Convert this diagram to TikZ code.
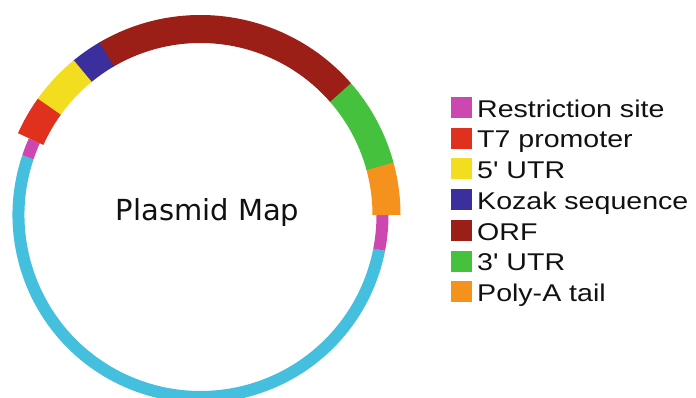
\documentclass[tikz,border=0pt]{standalone}
\usepackage{fontspec}
\newfontfamily\legendfont[FakeStretch=1.18]{Liberation Sans}
\newfontfamily\mapfont{DejaVu Sans}
\definecolor{cCyan}{HTML}{44BFDD}
\definecolor{cMag}{HTML}{CC48B0}
\definecolor{cRed}{HTML}{E0301E}
\definecolor{cYel}{HTML}{F2DE1E}
\definecolor{cBlue}{HTML}{3B2F9E}
\definecolor{cOrf}{HTML}{9C1F17}
\definecolor{cGreen}{HTML}{46C13E}
\definecolor{cOrange}{HTML}{F5921E}
\definecolor{cText}{HTML}{111111}
\begin{document}
\begin{tikzpicture}[x=1pt,y=1pt,
  ringthin/.style={line width=12pt},
  ringband/.style={line width=28pt},
  legsq/.style={minimum width=21pt,minimum height=21pt,inner sep=0pt,anchor=south west},
  legtext/.style={anchor=base west,inner sep=0pt,text=cText,font=\legendfont\fontsize{24.2}{29}\selectfont}]
\useasboundingbox (0,0) rectangle (696,398);
\coordinate (C) at (200.5,183);
% thin ring parts
\draw[ringthin,cCyan] ([shift={(161.5:182)}]C) arc[start angle=161.5,end angle=349,radius=182];
\draw[ringthin,cMag] ([shift={(349:182)}]C) arc[start angle=349,end angle=360,radius=182];
\draw[ringthin,cMag] ([shift={(155.9:182)}]C) arc[start angle=155.9,end angle=161.5,radius=182];
% thick band parts
\draw[ringband,cOrange] ([shift={(0:186)}]C) arc[start angle=0,end angle=15.4,radius=186];
\draw[ringband,cGreen] ([shift={(15.2:186)}]C) arc[start angle=15.2,end angle=41.4,radius=186];
\draw[ringband,cOrf] ([shift={(41.2:186)}]C) arc[start angle=41.2,end angle=120.5,radius=186];
\draw[ringband,cBlue] ([shift={(120.3:186)}]C) arc[start angle=120.3,end angle=129.5,radius=186];
\draw[ringband,cYel] ([shift={(129.3:186)}]C) arc[start angle=129.3,end angle=144.6,radius=186];
\draw[ringband,cRed] ([shift={(144.4:186)}]C) arc[start angle=144.4,end angle=155.9,radius=186];
% centre label
\node[anchor=base,inner sep=0pt,text=cText,font=\mapfont\fontsize{29}{34}\selectfont] (title) at (207.5,177.3) {Plasmid Map};
% legend
\node[legsq,fill=cMag]    (s1) at (450.7,279.7) {};
\node[legsq,fill=cRed]    (s2) at (450.7,249.0) {};
\node[legsq,fill=cYel]    (s3) at (450.7,218.3) {};
\node[legsq,fill=cBlue]   (s4) at (450.7,187.6) {};
\node[legsq,fill=cOrf]    (s5) at (450.7,156.9) {};
\node[legsq,fill=cGreen]  (s6) at (450.7,126.2) {};
\node[legsq,fill=cOrange] (s7) at (450.7,95.5) {};
\node[legtext] (t1) at (477,280.7) {Restriction site};
\node[legtext] (t2) at (477,250.0) {T7 promoter};
\node[legtext] (t3) at (477,219.3) {5' UTR};
\node[legtext] (t4) at (477,188.6) {Kozak sequence};
\node[legtext] (t5) at (477,157.9) {ORF};
\node[legtext] (t6) at (477,127.2) {3' UTR};
\node[legtext] (t7) at (477,96.5) {Poly-A tail};
\end{tikzpicture}
\end{document}
